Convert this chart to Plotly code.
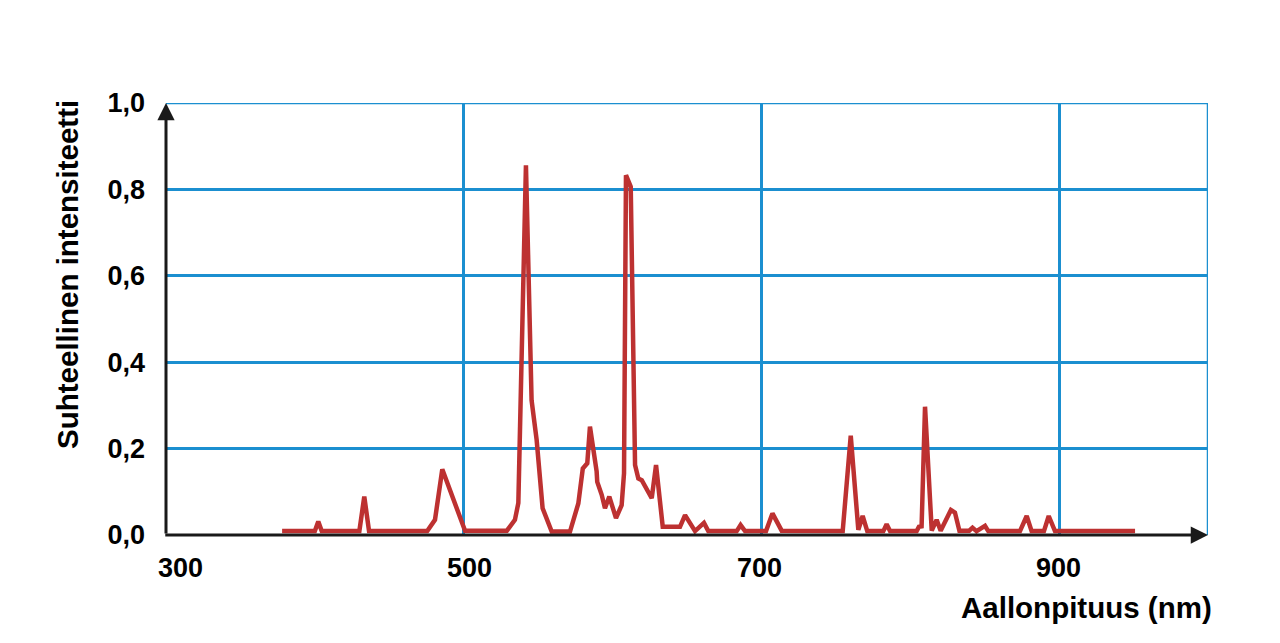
import plotly.graph_objects as go

# ---- data ----
wavelength_nm = [378, 400, 402.3, 404.6, 429.9, 433.2, 436.4, 475.5, 480.7, 485.6,
                 500.9, 529, 534.4, 536.7, 541.8, 545.6, 549, 553, 559.1, 571.4,
                 577, 580, 583, 584.8, 589.3, 589.7, 592.7, 594.9, 597.8, 602.3,
                 606.1, 607.7, 609, 612.2, 615.1, 617.3, 619.6, 626.3, 629.2, 633.7,
                 645.3, 648.7, 655.4, 661.4, 664.3, 683.4, 686, 689, 703.1, 707.4,
                 713.6, 754.6, 760, 765.1, 768, 771.1, 781.9, 784.1, 786.4, 804.3,
                 805.8, 807.6, 809.9, 814.4, 817.7, 820.4, 827.3, 830, 833, 839.6,
                 841.8, 844.5, 850.2, 852.4, 873.7, 878.2, 881.5, 889.8, 893, 897.2,
                 951]
intensity = [0.009, 0.009, 0.031, 0.009, 0.009, 0.089, 0.009, 0.009, 0.035, 0.152,
             0.010, 0.010, 0.035, 0.074, 0.856, 0.312, 0.220, 0.062, 0.008, 0.008,
             0.073, 0.154, 0.166, 0.251, 0.147, 0.123, 0.093, 0.062, 0.089, 0.039,
             0.069, 0.143, 0.833, 0.806, 0.162, 0.131, 0.127, 0.085, 0.162, 0.019,
             0.019, 0.046, 0.009, 0.028, 0.009, 0.009, 0.023, 0.009, 0.009, 0.050,
             0.010, 0.009, 0.230, 0.012, 0.044, 0.009, 0.009, 0.025, 0.009, 0.009,
             0.019, 0.020, 0.297, 0.010, 0.035, 0.010, 0.058, 0.052, 0.010, 0.010,
             0.017, 0.009, 0.021, 0.009, 0.009, 0.044, 0.009, 0.009, 0.044, 0.009,
             0.009]

x_tick_vals = [300, 500, 700, 900]
x_tick_text = ["300", "500", "700", "900"]
x_tick_shift = [14, 6, -2, -1]
y_tick_vals = [0, 0.2, 0.4, 0.6, 0.8, 1.0]
y_tick_text = ["0,0", "0,2", "0,4", "0,6", "0,8", "1,0"]
x_grid_vals = [500, 700, 900]

x_title = "Aallonpituus (nm)"
y_title = "Suhteellinen intensiteetti"

X_MIN, X_MAX = 300, 1000
Y_MIN, Y_MAX = 0, 1.0

GRID = "#1b8fd0"
LINE = "#bd3131"
AXIS = "#1a1a1a"
FONT = "Liberation Sans, Arial, sans-serif"

fig = go.Figure()
fig.add_trace(go.Scatter(x=wavelength_nm, y=intensity, mode="lines",
                         line=dict(color=LINE, width=4.5), hoverinfo="x+y",
                         showlegend=False))

fig.update_layout(
    width=1272, height=635, autosize=False,
    margin=dict(l=158, r=72, t=95, b=108),
    paper_bgcolor="white", plot_bgcolor="white",
    xaxis=dict(range=[X_MIN, X_MAX], tickvals=x_grid_vals, showticklabels=False,
               showgrid=True, gridcolor=GRID, gridwidth=2.5, zeroline=False,
               showline=False, ticks=""),
    yaxis=dict(range=[Y_MIN, Y_MAX], tickvals=y_tick_vals, ticktext=y_tick_text,
               showgrid=True, gridcolor=GRID, gridwidth=2.5, zeroline=False,
               showline=False, ticks="", ticklabelstandoff=20,
               tickfont=dict(family=FONT, size=27, color="black", weight="bold")),
)

# top and right blue border
fig.add_shape(type="line", xref="x", yref="y", x0=X_MIN, x1=X_MAX, y0=Y_MAX, y1=Y_MAX,
              line=dict(color=GRID, width=2.5), layer="below")
fig.add_shape(type="line", xref="x", yref="y", x0=X_MAX, x1=X_MAX, y0=Y_MIN, y1=Y_MAX,
              line=dict(color=GRID, width=2.5), layer="below")

# axes with arrowheads
fig.add_annotation(x=X_MAX, y=Y_MIN, ax=X_MIN - 1.5, ay=Y_MIN, xref="x", yref="y",
                   axref="x", ayref="y", text="", showarrow=True, arrowhead=2,
                   arrowsize=1.15, arrowwidth=3, arrowcolor=AXIS)
fig.add_annotation(x=X_MIN, y=Y_MAX, ax=X_MIN, ay=Y_MIN, xref="x", yref="y",
                   axref="x", ayref="y", text="", showarrow=True, arrowhead=2,
                   arrowsize=1.15, arrowwidth=3, arrowcolor=AXIS)

# x tick labels
for v, t, s in zip(x_tick_vals, x_tick_text, x_tick_shift):
    fig.add_annotation(x=v, y=Y_MIN, xref="x", yref="y", text=t, showarrow=False,
                       xanchor="center", yanchor="middle", xshift=s, yshift=-33,
                       font=dict(family=FONT, size=27, color="black", weight="bold"))

# axis titles
fig.add_annotation(x=1, y=0, xref="paper", yref="paper", text=x_title, showarrow=False,
                   xanchor="right", yanchor="middle", xshift=6, yshift=-72,
                   font=dict(family=FONT, size=29.5, color="black", weight="bold"))
fig.add_annotation(x=0, y=0.602, xref="paper", yref="paper", text=y_title,
                   showarrow=False, textangle=-90, xanchor="center", yanchor="middle",
                   xshift=-98,
                   font=dict(family=FONT, size=29.5, color="black", weight="bold"))

fig.write_html("out.html")
